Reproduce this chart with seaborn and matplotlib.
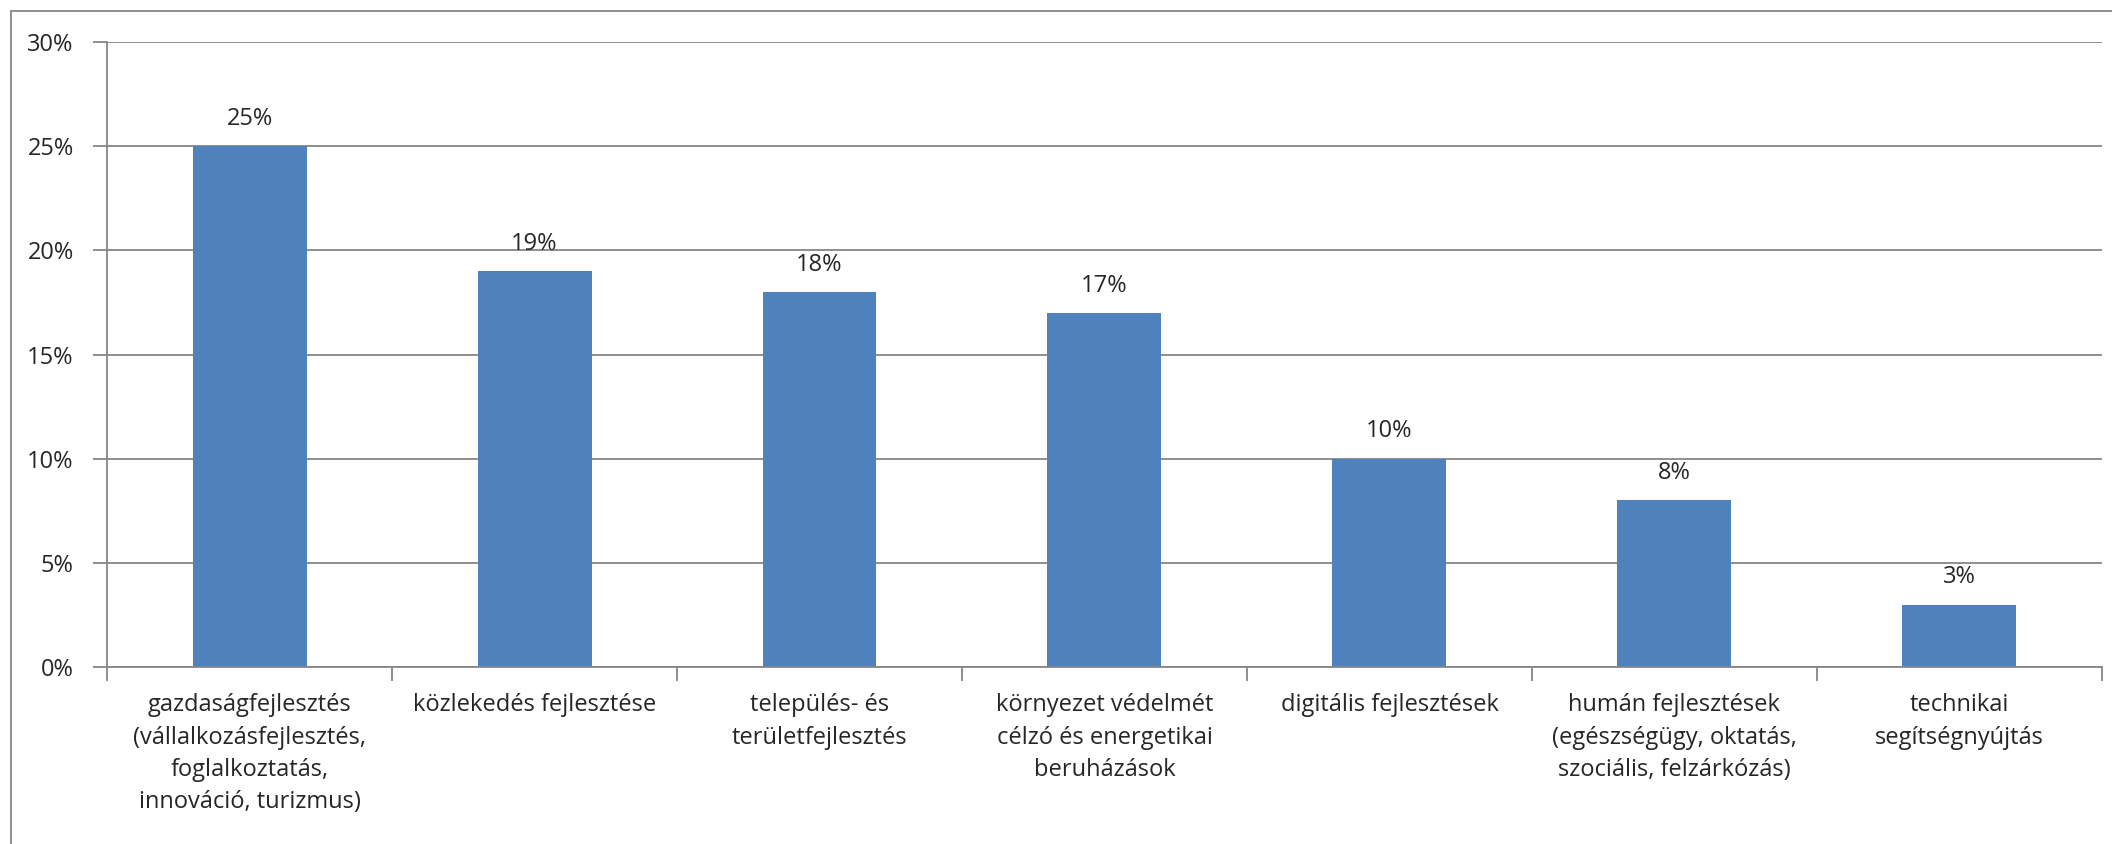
import matplotlib
matplotlib.use("Agg")
import matplotlib.pyplot as plt
import seaborn as sns
import pandas as pd
from matplotlib.lines import Line2D
from matplotlib.ticker import FixedLocator, PercentFormatter

categories = [
    "gazdaságfejlesztés\n(vállalkozásfejlesztés,\nfoglalkoztatás,\ninnováció, turizmus)",
    "közlekedés fejlesztése",
    "település- és\nterületfejlesztés",
    "környezet védelmét\ncélzó és energetikai\nberuházások",
    "digitális fejlesztések",
    "humán fejlesztések\n(egészségügy, oktatás,\nszociális, felzárkózás)",
    "technikai\nsegítségnyújtás",
]
values = [25, 19, 18, 17, 10, 8, 3]
y_ticks = [0, 5, 10, 15, 20, 25, 30]

df = pd.DataFrame({"kategoria": categories, "arany": values})

sns.set_style("white")
plt.rcParams['font.family'] = ['Open Sans', 'DejaVu Sans']

fig = plt.figure(figsize=(21.12, 8.44), dpi=100)
ax = fig.add_axes([0.0507, 0.2097, 0.9445, 0.7403])

sns.barplot(data=df, x="kategoria", y="arany", color="#4F81BD", width=0.4,
            saturation=1, linewidth=0, edgecolor="none", ax=ax)

ax.set_ylim(0, 30)
ax.set_xlim(-0.5, len(categories) - 0.5)
ax.set_yticks(y_ticks)
ax.yaxis.set_major_formatter(PercentFormatter(decimals=0))
ax.grid(axis='y', color='#868686', linewidth=1.3)
ax.set_axisbelow(True)
ax.set_xlabel("")
ax.set_ylabel("")

for s in ["top", "right"]:
    ax.spines[s].set_visible(False)
for s in ["left", "bottom"]:
    ax.spines[s].set_color('#868686')
    ax.spines[s].set_linewidth(1.3)

# x ticks at category boundaries (Excel style), labels at centers
ax.xaxis.set_major_locator(FixedLocator([i - 0.5 for i in range(len(categories) + 1)]))
ax.xaxis.set_major_formatter(plt.NullFormatter())
ax.xaxis.set_minor_locator(FixedLocator(list(range(len(categories)))))
ax.set_xticklabels(categories, minor=True, linespacing=1.45)
ax.tick_params(axis='x', which='major', direction='out', length=10, width=1.3,
               color='#868686', bottom=True)
ax.tick_params(axis='x', which='minor', length=0, pad=19, labelsize=17,
               labelcolor='#262626')
ax.tick_params(axis='y', direction='out', length=10, width=1.3, color='#868686',
               left=True, labelsize=17, labelcolor='#262626', pad=14)

for i, v in enumerate(values):
    ax.annotate(f"{v}%", (i, v), xytext=(0, 11), textcoords='offset points',
                ha='center', va='bottom', fontsize=17, color='#262626')

# outer chart border (left and top visible)
fig.add_artist(Line2D([0.005, 0.005], [0.0, 0.987], transform=fig.transFigure,
                      color='#868686', linewidth=1.3))
fig.add_artist(Line2D([0.005, 1.0], [0.987, 0.987], transform=fig.transFigure,
                      color='#868686', linewidth=1.3))

fig.savefig("out.png", dpi=100)
